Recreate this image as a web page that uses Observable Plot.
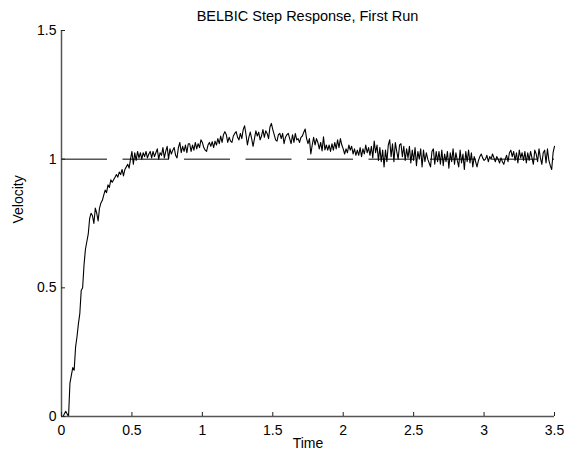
<!DOCTYPE html>
<html>
<head>
<meta charset="utf-8">
<script src="https://cdn.jsdelivr.net/npm/d3@7"></script>
<script src="https://cdn.jsdelivr.net/npm/@observablehq/plot@0.6"></script>
<style>
  body { margin: 0; background: #fff; font-family: "Liberation Sans", Arial, Helvetica, sans-serif; }
  #title { position: relative; width: 564px; height: 22px; }
  #title div { position: absolute; left: 61px; width: 493px; top: 9px; line-height: 14px; text-align: center; font-size: 14.5px; color: #000; white-space: nowrap; }
  svg { display: block; }
</style>
</head>
<body>
<div id="title"><div>BELBIC Step Response, First Run</div></div>
<div id="chart"></div>
<script>
// Sampling step of the recorded response (s)
const dt = 0.01;
const velocity = [
  0, 0, 0.01, 0.02, 0.01, 0.00, 0.13, 0.16, 0.19, 0.18,
  0.27, 0.31, 0.36, 0.40, 0.49, 0.50, 0.59, 0.65, 0.68, 0.71,
  0.77, 0.79, 0.78, 0.75, 0.81, 0.79, 0.76, 0.81, 0.83, 0.84,
  0.86, 0.88, 0.87, 0.90, 0.89, 0.92, 0.91, 0.92, 0.93, 0.94,
  0.93, 0.95, 0.94, 0.96, 0.935, 0.96, 0.97, 0.98, 0.965, 1.00,
  1.03, 0.98, 1.025, 0.995, 1.03, 1.005, 1.025, 1.0, 1.025, 1.01,
  1.03, 1.005, 1.02, 1.03, 1.005, 1.03, 1.01, 1.025, 1.04, 1.0,
  1.025, 1.015, 1.045, 1.005, 1.03, 1.05, 1.0, 1.04, 1.02, 1.035,
  1.045, 1.015, 1.005, 1.045, 1.065, 1.025, 1.05, 1.03, 1.055, 1.025,
  1.06, 1.06, 1.03, 1.055, 1.035, 1.065, 1.04, 1.06, 1.045, 1.075,
  1.065, 1.045, 1.035, 1.03, 1.055, 1.065, 1.05, 1.068, 1.045, 1.07,
  1.055, 1.08, 1.06, 1.09, 1.065, 1.095, 1.107, 1.095, 1.065, 1.085,
  1.07, 1.065, 1.09, 1.1, 1.107, 1.085, 1.075, 1.1, 1.08, 1.115,
  1.13, 1.095, 1.055, 1.085, 1.105, 1.08, 1.05, 1.08, 1.11, 1.09,
  1.105, 1.075, 1.09, 1.115, 1.085, 1.11, 1.1, 1.08, 1.125, 1.139,
  1.115, 1.095, 1.075, 1.07, 1.095, 1.1, 1.08, 1.1, 1.06, 1.085,
  1.095, 1.1, 1.08, 1.06, 1.095, 1.065, 1.1, 1.075, 1.08, 1.065,
  1.085, 1.09, 1.105, 1.117, 1.08, 1.06, 1.08, 1.02, 1.055, 1.085,
  1.055, 1.08, 1.065, 1.04, 1.065, 1.032, 1.087, 1.036, 1.055, 1.035,
  1.055, 1.03, 1.06, 1.035, 1.065, 1.04, 1.075, 1.045, 1.08, 1.055,
  1.04, 1.02, 1.04, 1.025, 1.055, 1.035, 1.05, 1.02, 1.04, 1.015,
  1.035, 1.015, 1.045, 1.01, 1.04, 1.02, 1.055, 1.025, 1.045, 1.015,
  1.05, 1.005, 1.07, 1.025, 1.055, 0.995, 1.045, 0.99, 1.035, 0.97,
  1.035, 0.99, 1.055, 1.075, 1.01, 1.06, 0.99, 1.065, 1.03, 1.0,
  1.055, 1.06, 1.01, 1.05, 0.995, 1.04, 1.005, 1.05, 0.985, 1.035,
  0.995, 1.045, 0.975, 1.03, 1.0, 1.04, 0.97, 1.035, 0.99, 1.025,
  1.0, 0.985, 0.97, 1.03, 1.04, 0.98, 1.03, 0.99, 1.03, 0.98,
  1.035, 0.975, 1.02, 0.99, 1.03, 0.965, 1.025, 0.99, 1.04, 0.98,
  1.025, 0.995, 0.97, 1.035, 0.985, 1.02, 0.96, 1.03, 0.99, 1.035,
  0.985, 1.025, 0.97, 1.01, 0.99, 0.97, 0.995, 1.01, 1.02, 1.005,
  0.995, 1.0, 1.015, 0.99, 1.01, 1.0, 1.02, 1.005, 0.99, 1.01,
  1.0, 0.985, 1.005, 0.99, 0.98, 1.0, 1.015, 0.99, 1.025, 1.035,
  1.01, 1.03, 0.995, 1.025, 0.985, 1.035, 1.005, 1.025, 0.995, 1.03,
  0.985, 1.025, 0.995, 1.03, 1.005, 0.98, 1.035, 1.02, 0.99, 1.04,
  1.005, 0.98, 1.025, 1.035, 0.985, 1.04, 0.995, 0.975, 0.96, 1.025,
  1.05
];
const reference = [1];
const xTicks = [0, 0.5, 1, 1.5, 2, 2.5, 3, 3.5];
const yTicks = [0, 0.5, 1, 1.5];
const xDomain = [0, 3.5];
const yDomain = [0, 1.5];

const series = velocity.map((v, i) => ({t: i * dt, v}));

const W = 564, H = 433;
const mL = 61, mR = 10, mT = 8, mB = 39;
const fw = W - mL - mR, fh = H - mT - mB;
const font = "'Liberation Sans', Arial, Helvetica, sans-serif";
const axisColor = "#555";

const chart = Plot.plot({
  width: W,
  height: H,
  marginLeft: mL,
  marginRight: mR,
  marginTop: mT,
  marginBottom: mB,
  style: {fontFamily: font, fontSize: "14px", color: "#000", background: "#fff", overflow: "visible"},
  x: {domain: xDomain, ticks: xTicks, tickSize: 0, tickPadding: 9, tickFormat: d => String(d), label: null},
  y: {domain: yDomain, ticks: yTicks, tickSize: 0, tickPadding: 5, tickFormat: d => String(d), label: null},
  marks: [
    Plot.ruleY(reference, {stroke: "#000", strokeWidth: 1, strokeDasharray: "46,15.5"}),
    Plot.line(series, {x: "t", y: "v", stroke: "#000", strokeWidth: 1.1}),
    Plot.ruleX([xDomain[0]], {stroke: axisColor, strokeWidth: 1.5}),
    Plot.ruleY([yDomain[0]], {stroke: axisColor, strokeWidth: 1.5}),
    Plot.tickX(xTicks, {x: d => d, insetTop: fh - 4, stroke: "#222", strokeWidth: 1}),
    Plot.tickY(yTicks, {y: d => d, insetRight: fw - 4, stroke: "#222", strokeWidth: 1}),
    Plot.text(["Time"], {frameAnchor: "bottom", dy: 31.5, fontSize: 14, fill: "#000"}),
    Plot.text(["Velocity"], {frameAnchor: "left", dx: -43, rotate: -90, fontSize: 14, fill: "#000"})
  ]
});
document.getElementById("chart").appendChild(chart);
</script>
</body>
</html>
